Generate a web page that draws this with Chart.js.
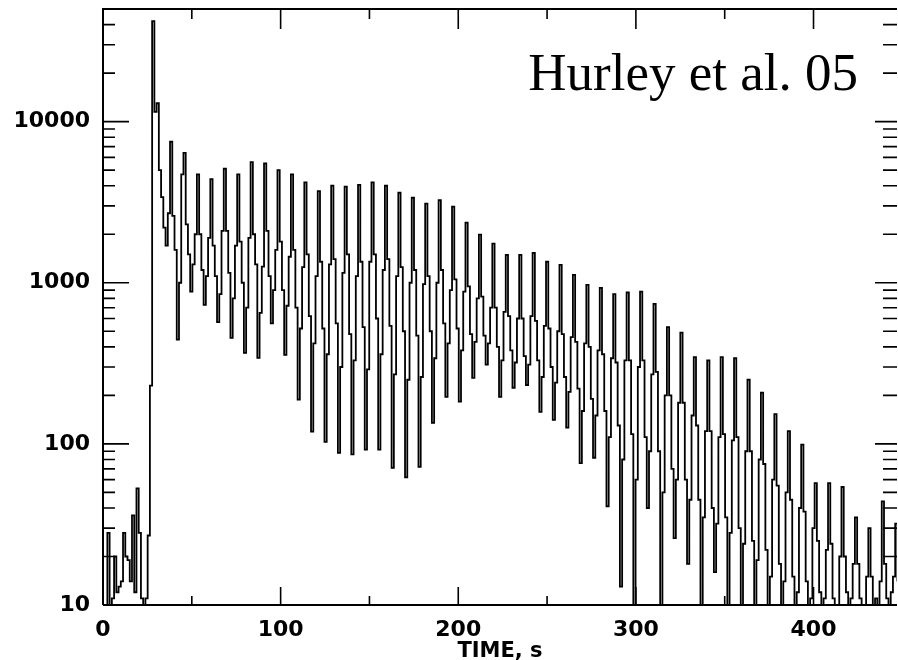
<!DOCTYPE html>
<html>
<head>
<meta charset="utf-8">
<script src="https://cdn.jsdelivr.net/npm/chart.js@4.4.1/dist/chart.umd.min.js"></script>
<style>
  html, body { margin: 0; padding: 0; background: #fff; }
  #wrap { width: 898px; height: 660px; }
</style>
</head>
<body>
<div id="wrap"><canvas id="chart" width="898" height="660"></canvas></div>
<script>
// light curve, counts per bin (bins of binWidth seconds starting at startTime)
// 1 = empty bin (below the axis)
const binWidth = 1.26;
const startTime = 1.2;

const preFlare = [1, 28, 1, 11, 20, 12, 13, 14, 28, 20, 19, 14, 36, 12, 53, 28, 11, 1, 11, 27, 230];
const flare = [42000, 11500, 13000, 5000, 3400, 2200, 1700, 2700];
// pulsating tail, one row per 7.56 s rotation: peak, fall, shoulder, dip, rise, pre-peak
const tail = [
  7500, 2600, 1600, 443, 1000, 4700,
  6400, 2300, 1500, 880, 1300, 2000,
  4700, 2000, 1200, 730, 1100, 1900,
  4400, 1700, 1100, 570, 850, 2100,
  5100, 2100, 1150, 455, 800, 1700,
  4700, 1800, 1000, 367, 700, 1900,
  5600, 2000, 1300, 342, 650, 1260,
  5500, 2100, 1100, 560, 900, 1600,
  5000, 1800, 900, 357, 720, 1450,
  4700, 1600, 700, 188, 520, 1250,
  4200, 1500, 620, 119, 420, 1100,
  3700, 1350, 520, 103, 360, 1300,
  4000, 1400, 560, 88, 300, 1150,
  3950, 1500, 480, 86, 330, 1100,
  4050, 1350, 530, 92, 290, 1350,
  4200, 1500, 600, 92, 360, 1200,
  4000, 1400, 540, 71, 270, 1100,
  3620, 1250, 500, 62, 250, 1000,
  3370, 1200, 470, 72, 260, 980,
  3100, 1100, 500, 135, 340, 1000,
  3250, 1200, 560, 196, 420, 900,
  2970, 1050, 520, 183, 380, 880,
  2360, 950, 480, 257, 430, 800,
  1990, 820, 470, 310, 420, 700,
  1750, 700, 400, 196, 330, 660,
  1490, 620, 380, 223, 320, 600,
  1490, 600, 350, 232, 310, 620,
  1530, 580, 330, 158, 260, 540,
  1350, 520, 300, 141, 240, 500,
  1290, 480, 260, 126, 210, 460,
  1120, 430, 220, 76, 160, 420,
  970, 400, 190, 82, 150, 380,
  930, 360, 160, 41, 110, 340,
  850, 320, 130, 13, 80, 330,
  870, 330, 115, 5, 60, 300,
  880, 330, 110, 40, 90, 270,
  740, 280, 90, 1, 50, 200,
  530, 200, 70, 26, 60, 180,
  490, 180, 60, 18, 45, 150,
  345, 130, 45, 1, 35, 120,
  330, 120, 40, 16, 32, 110,
  345, 115, 35, 1, 28, 105,
  340, 110, 30, 1, 24, 90,
  250, 90, 25, 1, 19, 80,
  208, 75, 22, 1, 15, 60,
  153, 55, 18, 1, 14, 50,
  120, 45, 15, 1, 12, 40,
  99, 38, 14, 1, 11, 30,
  57, 25, 12, 1, 11, 22,
  57, 24, 11, 1, 1, 20,
  54, 20, 12, 1, 11, 18,
  35, 18, 11, 1, 1, 15,
  30, 15, 1, 11, 1, 14,
  44, 18, 11, 1, 12, 15,
  32, 14, 1
];
const counts = preFlare.concat(flare, tail);

const xTickLabels = [0, 100, 200, 300, 400];
const xMinorTicks = [50, 150, 250, 350];
const yTickLabels = [10, 100, 1000, 10000];
const yMinorTicks = [20, 30, 40, 50, 60, 70, 80, 90, 200, 300, 400, 500, 600, 700, 800, 900,
  2000, 3000, 4000, 5000, 6000, 7000, 8000, 9000, 20000, 30000, 40000];
const note = 'Hurley et al. 05';

const points = counts.map((c, i) => ({ x: startTime + i * binWidth, y: c }));
const tickFont = { family: 'DejaVu Sans', size: 22, weight: 'bold' };

// frame + inward tick marks on all four sides
const frameTicks = {
  id: 'frameTicks',
  afterDraw(chart) {
    const { ctx, chartArea: a, scales: { x, y } } = chart;
    ctx.save();
    ctx.strokeStyle = '#000';
    ctx.lineWidth = 2;
    ctx.beginPath();
    ctx.moveTo(a.left, a.bottom); ctx.lineTo(a.left, a.top); ctx.lineTo(a.right, a.top);
    ctx.moveTo(a.left, a.bottom); ctx.lineTo(a.right, a.bottom);
    ctx.stroke();
    ctx.lineWidth = 1.6;
    ctx.beginPath();
    const xt = (v, lb, lt) => {
      const px = x.getPixelForValue(v);
      ctx.moveTo(px, a.bottom); ctx.lineTo(px, a.bottom - lb);
      ctx.moveTo(px, a.top); ctx.lineTo(px, a.top + lt);
    };
    const yt = (v, ll, lr) => {
      const py = y.getPixelForValue(v);
      ctx.moveTo(a.left, py); ctx.lineTo(a.left + ll, py);
      ctx.moveTo(a.right, py); ctx.lineTo(a.right - lr, py);
    };
    xTickLabels.forEach(v => xt(v, 18, 20));
    xMinorTicks.forEach(v => xt(v, 9, 10));
    yTickLabels.forEach(v => yt(v, 26, 22));
    yMinorTicks.forEach(v => yt(v, 12, 14));
    ctx.stroke();

    ctx.fillStyle = '#000';
    ctx.font = '53px "Liberation Serif"';
    ctx.textAlign = 'right';
    ctx.textBaseline = 'alphabetic';
    ctx.fillText(note, 858, 90);
    ctx.restore();
  }
};

new Chart(document.getElementById('chart'), {
  type: 'line',
  data: {
    datasets: [{
      data: points,
      borderColor: '#000',
      borderWidth: 1.8,
      pointRadius: 0,
      stepped: true,
      fill: false
    }]
  },
  options: {
    responsive: false,
    animation: false,
    layout: { padding: { top: 9, right: 1, left: 0, bottom: 0 } },
    plugins: { legend: { display: false }, tooltip: { enabled: false } },
    scales: {
      x: {
        type: 'linear',
        min: 0,
        max: 447,
        afterBuildTicks: s => { s.ticks = xTickLabels.map(v => ({ value: v })); },
        afterFit: s => { s.height = 55; s.paddingLeft = 0; s.paddingRight = 0; },
        grid: { display: false, drawTicks: false },
        border: { display: false },
        ticks: { autoSkip: false, maxRotation: 0, padding: 12, color: '#000', font: tickFont, callback: v => String(v) },
        title: { display: true, text: 'TIME, s', color: '#000', font: { family: 'DejaVu Sans', size: 21, weight: 'bold' }, padding: { top: 0, bottom: -4 } }
      },
      y: {
        type: 'logarithmic',
        min: 10,
        max: 50000,
        afterBuildTicks: s => { s.ticks = yTickLabels.map(v => ({ value: v })); },
        afterFit: s => { s.width = 103; s.paddingTop = 0; s.paddingBottom = 0; },
        grid: { display: false, drawTicks: false },
        border: { display: false },
        ticks: { autoSkip: false, padding: 13, color: '#000', font: tickFont, callback: v => String(v) }
      }
    }
  },
  plugins: [frameTicks]
});
</script>
</body>
</html>
